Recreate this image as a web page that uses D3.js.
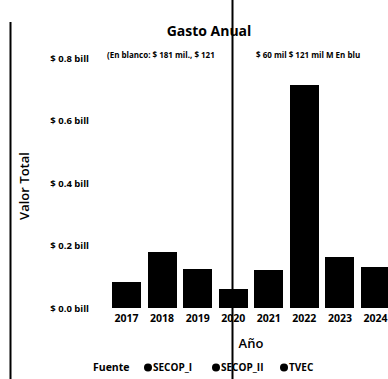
<!DOCTYPE html>
<meta charset="utf-8">
<style>
  body {
    margin: 0;
    overflow: hidden;
    background: #fff;
  }
  text {
    font-family: "Open Sans", sans-serif;
    fill: #000;
  }
</style>
<body>
</body>
<script src="https://cdn.jsdelivr.net/npm/d3@7"></script>
<script>

var width = 388,
    height = 379;

// data (billions of pesos)
var years = ["2017", "2018", "2019", "2020", "2021", "2022", "2023", "2024"];
var secopI  = [0.012, 0.015, 0.010, 0.008, 0.042, 0.020, 0.010, 0.008];
var secopII = [0.060, 0.150, 0.105, 0.045, 0.070, 0.680, 0.140, 0.110];
var tvec    = [0.011, 0.014, 0.010, 0.008, 0.010, 0.014, 0.013, 0.013];
var seriesNames = ["SECOP_I", "SECOP_II", "TVEC"];
var yTicks = [0, 0.2, 0.4, 0.6, 0.8];

var rows = years.map(function(y, i) {
  return {year: y, SECOP_I: secopI[i], SECOP_II: secopII[i], TVEC: tvec[i]};
});

var x = d3.scaleBand()
    .domain(years)
    .range([106, 396])
    .paddingInner(0.185)
    .paddingOuter(0.17);

var y = d3.scaleLinear()
    .domain([0, 0.8])
    .range([308, 58]);

var svg = d3.select("body").append("svg")
    .attr("width", width)
    .attr("height", height);

// left edge line
svg.append("line")
    .attr("x1", 10.5).attr("x2", 10.5)
    .attr("y1", 22).attr("y2", height)
    .style("stroke", "#000")
    .style("stroke-width", 2);

svg.append("text")
    .attr("x", 209)
    .attr("y", 36)
    .attr("text-anchor", "middle")
    .style("font-size", "14px")
    .style("font-weight", "bold")
    .text("Gasto Anual");

svg.append("text")
    .attr("x", 107)
    .attr("y", 58)
    .style("font-size", "8px")
    .style("font-weight", "bold")
    .text("(En blanco: $ 181 mil., $ 121");

svg.append("text")
    .attr("x", 256)
    .attr("y", 58)
    .style("font-size", "8px")
    .style("font-weight", "bold")
    .text("$ 60 mil $ 121 mil M En blu");

var stack = d3.stack().keys(seriesNames);

svg.append("g").selectAll("g")
    .data(stack(rows))
  .enter().append("g")
    .style("fill", "#000")
  .selectAll("rect")
    .data(d => d)
  .enter().append("rect")
    .attr("shape-rendering", "crispEdges")
    .attr("x", d => x(d.data.year))
    .attr("width", x.bandwidth())
    .attr("y", d => y(d[1]))
    .attr("height", d => y(d[0]) - y(d[1]));

var yAxis = svg.append("g")
    .attr("transform", "translate(90,0)")
    .call(d3.axisLeft(y).tickValues(yTicks).tickSize(0)
      .tickFormat(d => "$ " + d3.format(".1f")(d) + " bill"));
yAxis.select(".domain").remove();
yAxis.selectAll("text")
    .style("font-family", "'Open Sans', sans-serif")
    .style("font-size", "9.5px")
    .style("font-weight", "bold")
    .attr("dx", 2);

var xAxis = svg.append("g")
    .attr("transform", "translate(0,312)")
    .call(d3.axisBottom(x).tickSize(0));
xAxis.select(".domain").remove();
xAxis.selectAll("text")
    .style("font-family", "'Open Sans', sans-serif")
    .style("font-size", "10.5px")
    .style("font-weight", "bold");

svg.append("text")
    .attr("transform", "translate(29,186) rotate(-90)")
    .attr("text-anchor", "middle")
    .style("font-size", "13px")
    .style("font-weight", "600")
    .text("Valor Total");

svg.append("text")
    .attr("x", 251)
    .attr("y", 348)
    .attr("text-anchor", "middle")
    .style("font-size", "13px")
    .style("font-weight", "600")
    .text("Año");

// legend
var legend = svg.append("g")
    .attr("transform", "translate(93,371)");

legend.append("text")
    .style("font-size", "10.5px")
    .style("font-weight", "bold")
    .text("Fuente");

var legendX = [51, 119, 187];
legend.selectAll(".item")
    .data(seriesNames)
  .enter().append("g")
    .attr("class", "item")
    .attr("transform", (d, i) => "translate(" + legendX[i] + ",0)")
    .each(function(d) {
      var g = d3.select(this);
      g.append("circle").attr("cx", 4).attr("cy", -3.5).attr("r", 4).style("fill", "#000");
      g.append("text").attr("x", 9).style("font-size", "10px").style("font-weight", "bold").text(d);
    });

// vertical cursor line across the chart
svg.append("line")
    .attr("x1", 232.5).attr("x2", 232.5)
    .attr("y1", 0).attr("y2", height)
    .style("stroke", "#000")
    .style("stroke-width", 2);

</script>
